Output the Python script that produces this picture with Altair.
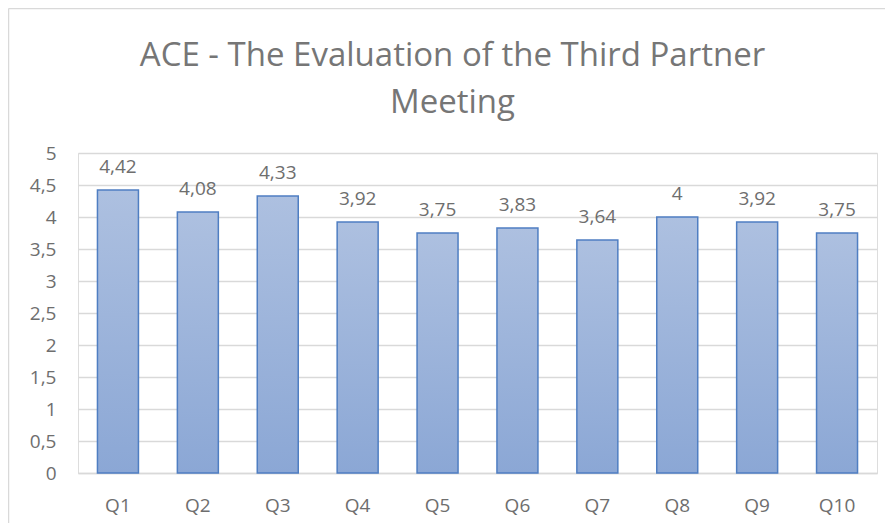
import altair as alt
import pandas as pd

questions = ["Q1", "Q2", "Q3", "Q4", "Q5", "Q6", "Q7", "Q8", "Q9", "Q10"]
scores = [4.42, 4.08, 4.33, 3.92, 3.75, 3.83, 3.64, 4.0, 3.92, 3.75]
y_ticks = [0, 0.5, 1, 1.5, 2, 2.5, 3, 3.5, 4, 4.5, 5]

df = pd.DataFrame({"q": questions, "v": scores})

FONT = "Open Sans"
GRAY = "#6e6e6e"
GRID = "#d9d9d9"

base = alt.Chart(df).transform_calculate(
    lab="replace(toString(datum.v), '.', ',')"
)

x_enc = alt.X(
    "q:N",
    sort=questions,
    title=None,
    scale=alt.Scale(paddingInner=0.487, paddingOuter=0.2435),
    axis=alt.Axis(
        labelAngle=0, ticks=False, domain=True, domainColor=GRID, domainWidth=1.5,
        labelFont=FONT, labelFontSize=19, labelColor=GRAY, labelPadding=23,
    ),
)
y_enc = alt.Y(
    "v:Q",
    title=None,
    scale=alt.Scale(domain=[0, 5], nice=False),
    axis=alt.Axis(
        values=y_ticks, ticks=False, domain=False, grid=True, gridColor=GRID,
        gridWidth=1.5, labelFont=FONT, labelFontSize=19, labelColor=GRAY,
        labelPadding=22, labelOverlap=False,
        labelExpr="replace(toString(datum.value), '.', ',')",
    ),
)

bars = base.mark_bar(
    fill=alt.Gradient(
        gradient="linear",
        stops=[alt.GradientStop(color="#adc0e0", offset=0),
               alt.GradientStop(color="#8ba7d5", offset=1)],
        x1=0, x2=0, y1=0, y2=1,
    ),
    stroke="#4f7ec2",
    strokeWidth=1.5,
).encode(x=x_enc, y=y_enc)

labels = base.mark_text(
    font=FONT, fontSize=19, color=GRAY, baseline="alphabetic", dy=-17
).encode(x=x_enc, y=y_enc, text="lab:N")

frame_df = pd.DataFrame({"a": [0]})
left_line = alt.Chart(frame_df).mark_rule(color=GRID, strokeWidth=1.5).encode(
    x=alt.value(-69.5), y=alt.value(-144.5), y2=alt.value(400)
)
top_line = alt.Chart(frame_df).mark_rule(color=GRID, strokeWidth=1.5).encode(
    x=alt.value(-69.5), x2=alt.value(900), y=alt.value(-144.5)
)

chart = alt.layer(bars, labels, left_line, top_line).properties(
    width=799,
    height=320,
    title=alt.TitleParams(
        text=["ACE - The Evaluation of the Third Partner", "Meeting"],
        font=FONT, fontSize=33, fontWeight="normal", color="#767676",
        anchor="middle", dx=-25, offset=0, dy=112, lineHeight=47,
    ),
    autosize=alt.AutoSizeParams(type="none"),
    padding={"left": 70, "top": 145, "right": 8, "bottom": 50},
).configure_view(stroke=None).configure(background="white")

chart.save("out.html", embed_options={"renderer": "svg", "actions": False})
